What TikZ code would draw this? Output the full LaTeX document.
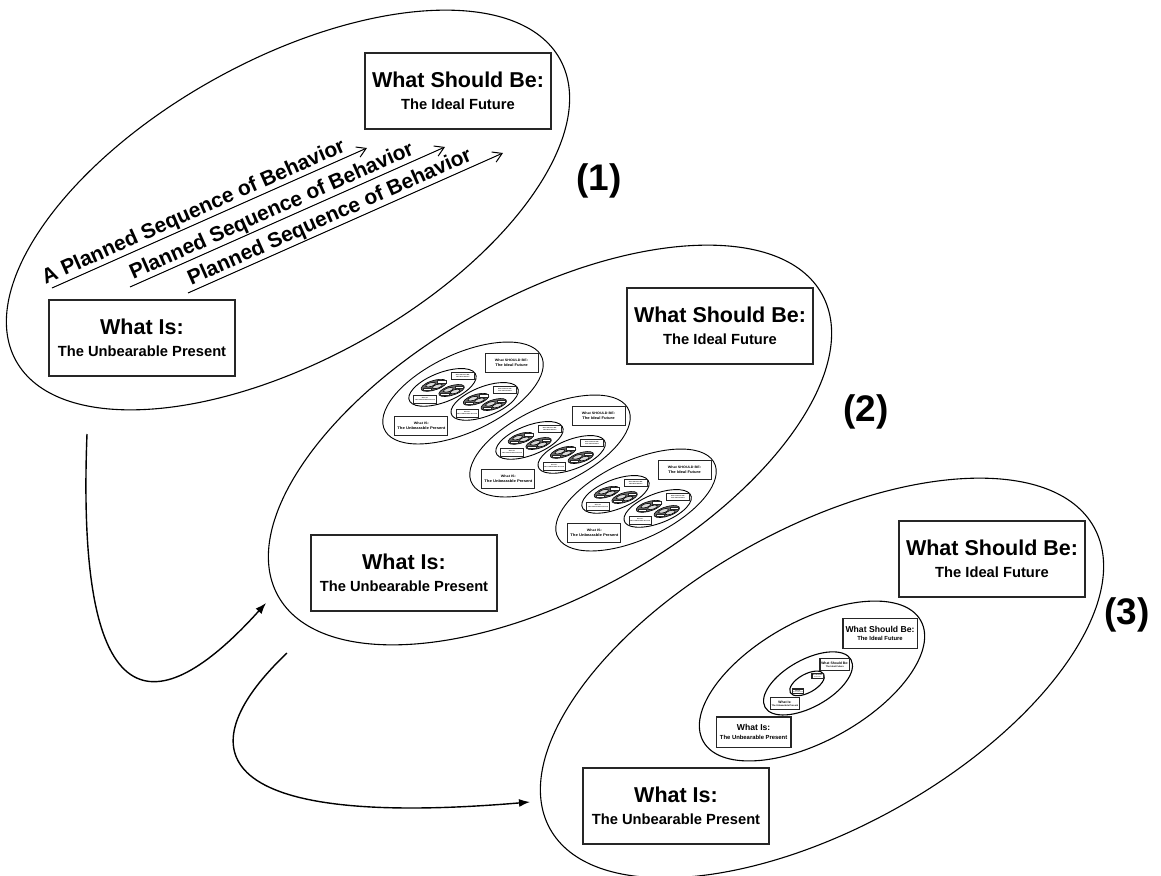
\documentclass[tikz,border=0pt]{standalone}
\usepackage{fontspec}
\setmainfont{Liberation Sans}
\usetikzlibrary{arrows.meta}

\tikzset{
  planloop/.style={line width=1.1pt},
  goalbox/.style={draw=black!85, line width=1.4pt, minimum width=186pt,
    minimum height=76pt, inner sep=0pt, align=center,
    font=\fontsize{14.7}{22}\selectfont\bfseries},
  seqtext/.style={font=\fontsize{21}{24}\selectfont\bfseries, inner sep=1pt},
  steplabel/.style={font=\fontsize{37}{40}\selectfont\bfseries},
  planarrow/.style={line width=1pt, -{Straight Barb[length=9pt,width=11pt]}},
  flow/.style={line width=1.4pt, -{Latex[length=11pt,width=8pt]}},
}

\newcommand\headline[1]{{\fontsize{21.5}{22}\selectfont #1}}
\newcommand\smallhead[1]{{\fontsize{13}{22}\selectfont #1}}

% loop with its two boxes, drawn round (0,0)
\newcommand\planunit[3]{%
  \draw[planloop, rotate=29] (0,0) ellipse [x radius=311, y radius=150];
  \node[goalbox] (#1-be) at (170,-119) {\headline{#2}\\The Ideal Future};
  \node[goalbox] (#1-is) at (-146,128) {\headline{#3}\\The Unbearable Present};
}
% too small to read: no text
\newcommand\planshell[1]{%
  \draw[planloop, fill=black!60, rotate=29] (0,0) ellipse [x radius=311, y radius=150];
  \node[goalbox, fill=white] (#1-be) at (170,-117) {};
  \node[goalbox, fill=white] (#1-is) at (-146,130) {};
  \draw[planloop, fill=black!15, shift={(-72,-22)}, rotate=29] (0,0) ellipse [x radius=120, y radius=60];
  \draw[planloop, fill=black!15, shift={(76,33)}, rotate=29] (0,0) ellipse [x radius=120, y radius=60];
}

\begin{document}
\begin{tikzpicture}[x=1pt, y=-1pt]
  \useasboundingbox (0,0) rectangle (1161,875);

  % (1)
  \begin{scope}[shift={(288,210)}]
    \planunit{one}{What Should Be:}{What Is:}
  \end{scope}
  \coordinate (p1s) at (52,288);  \coordinate (p1e) at (367,148);
  \coordinate (p2s) at (130,287); \coordinate (p2e) at (445,147);
  \coordinate (p3s) at (188,293); \coordinate (p3e) at (503,153);
  \draw[planarrow] (p1s) -- node[seqtext, sloped, above, pos=.465] (seq1) {A Planned Sequence of Behavior} (p1e);
  \draw[planarrow] (p2s) -- node[seqtext, sloped, above, pos=.465] (seq2) {Planned Sequence of Behavior} (p2e);
  \draw[planarrow] (p3s) -- node[seqtext, sloped, above, pos=.465] (seq3) {Planned Sequence of Behavior} (p3e);
  \node[steplabel] (lab1) at (599,181) {(1)};

  % (2)
  \begin{scope}[shift={(550,445)}]
    \planunit{two}{What Should Be:}{What Is:}
    \foreach \k/\px/\py in {a/-87/-52, b/0/1, c/86/55} {
      \begin{scope}[shift={(\px,\py)}, xscale=.285, yscale=.255, transform shape,
          planloop/.append style={line width=.9pt}, goalbox/.append style={line width=.9pt}]
        \planunit{two\k}{\smallhead{What SHOULD BE:}}{\smallhead{What IS:}}
        \foreach \j/\qx/\qy in {1/-72/-22, 2/76/33} {
          \begin{scope}[shift={(\qx,\qy)}, xscale=.42, yscale=.37]
            \planunit{two\k\j}{\smallhead{What SHOULD BE:}}{\smallhead{What IS:}}
            \foreach \i/\rx/\ry in {1/-72/-22, 2/76/33} {
              \begin{scope}[shift={(\rx,\ry)}, xscale=.38, yscale=.32,
                  planloop/.append style={line width=.6pt}, goalbox/.append style={line width=.6pt}]
                \planshell{two\k\j\i}
              \end{scope}
            }
          \end{scope}
        }
      \end{scope}
    }
  \end{scope}
  \node[steplabel] (lab2) at (866,412) {(2)};

  % (3)
  \begin{scope}[shift={(822,678)}]
    \planunit{three}{What Should Be:}{What Is:}
    \begin{scope}[shift={(-10,3)}, scale=.4, transform shape]
      \planunit{threea}{What Should Be:}{What Is:}
      \begin{scope}[shift={(-10,6)}, scale=.395]
        \planunit{threeb}{What Should Be:}{What Is:}
        \begin{scope}[shift={(-6,0)}, scale=.39]
          \planunit{threec}{What Should Be:}{What Is:}
        \end{scope}
      \end{scope}
    \end{scope}
  \end{scope}
  \node[steplabel] (lab3) at (1127,615) {(3)};

  % from one stage to the next
  \coordinate (f1s) at (87,434);  \coordinate (f1e) at (266,603);
  \draw[flow] (f1s) .. controls (75,740) and (165,715) .. (f1e);
  \coordinate (f2s) at (287,653); \coordinate (f2e) at (530,802);
  \draw[flow] (f2s) .. controls (190,745) and (200,830) .. (f2e);
\end{tikzpicture}
\end{document}
